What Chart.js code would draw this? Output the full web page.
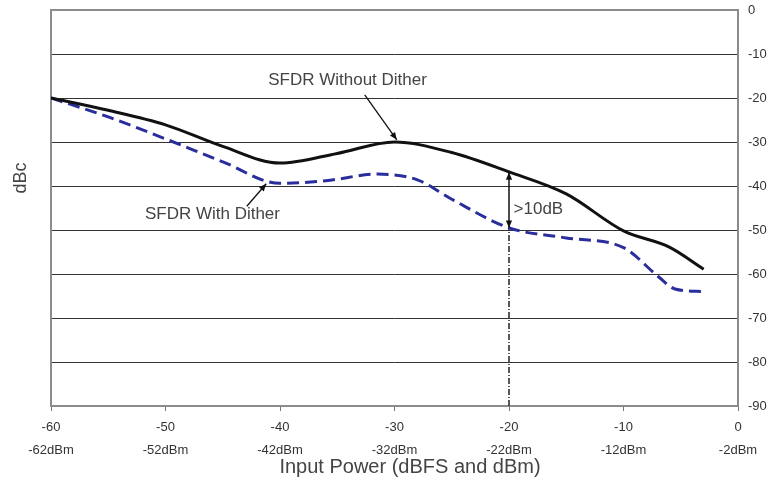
<!DOCTYPE html>
<html>
<head>
<meta charset="utf-8">
<script src="https://cdn.jsdelivr.net/npm/chart.js@4.4.1/dist/chart.umd.min.js"></script>
<style>
  html, body { margin: 0; padding: 0; background: #fff; }
  #wrap { width: 770px; height: 491px; }
</style>
</head>
<body>
<div id="wrap"><canvas id="sfdrChart" width="770" height="491"></canvas></div>
<script>
// Input power (dBFS) and SFDR (dBc)
const inputWithout = [-60, -55, -50, -45, -40, -35, -30, -25, -20, -15, -10, -6, -3];
const sfdrWithout  = [-20, -22.8, -26.1, -31, -34.8, -32.6, -30, -32.4, -36.8, -41.8, -50.2, -53.9, -58.9];

const inputWith = [-60, -55, -50, -45, -40, -36, -31.5, -28, -25, -20, -15, -10, -7, -5.5, -3];
const sfdrWith  = [-20, -24.3, -29.3, -34.5, -39.4, -38.8, -37.3, -38.6, -43, -49.5, -51.8, -54, -60.5, -63.4, -64];

const xTicks = [-60, -50, -40, -30, -20, -10, 0];
const dBmOffset = -2;

// annotations (data coordinates)
const markerX = -20;
const markerLow = -49.5;
const markerHigh = -36.9;

document.addEventListener("DOMContentLoaded", function () {
    const toXY = (xs, ys) => xs.map((x, i) => ({ x: x, y: ys[i] }));
    const textColor = '#444';
    const fontFamily = '"Liberation Sans", Arial, sans-serif';

    function arrowHead(ctx, x1, y1, x2, y2, size) {
        const a = Math.atan2(y2 - y1, x2 - x1);
        ctx.beginPath();
        ctx.moveTo(x2, y2);
        ctx.lineTo(x2 - size * Math.cos(a - 0.4), y2 - size * Math.sin(a - 0.4));
        ctx.lineTo(x2 - size * Math.cos(a + 0.4), y2 - size * Math.sin(a + 0.4));
        ctx.closePath();
        ctx.fill();
    }

    const decorPlugin = {
        id: 'decor',
        beforeDatasetsDraw(chart) {
            const ctx = chart.ctx;
            const a = chart.chartArea;
            const xs = chart.scales.x, ys = chart.scales.y;
            ctx.save();
            // frame
            ctx.strokeStyle = '#8c8c8c';
            ctx.lineWidth = 2;
            ctx.strokeRect(a.left, a.top, a.right - a.left, a.bottom - a.top);
            // dash-dot marker line from the axis up to the dithered curve
            const px = xs.getPixelForValue(markerX);
            ctx.strokeStyle = '#222';
            ctx.lineWidth = 1.5;
            ctx.setLineDash([6, 2, 1, 2]);
            ctx.beginPath();
            ctx.moveTo(px, a.bottom);
            ctx.lineTo(px, ys.getPixelForValue(markerLow));
            ctx.stroke();
            ctx.restore();
        },
        afterDatasetsDraw(chart) {
            const ctx = chart.ctx;
            const xs = chart.scales.x, ys = chart.scales.y;
            const X = v => xs.getPixelForValue(v), Y = v => ys.getPixelForValue(v);
            ctx.save();
            ctx.fillStyle = '#111';
            ctx.strokeStyle = '#111';
            ctx.lineWidth = 1.5;

            // >10dB double arrow
            const px = X(markerX), yl = Y(markerLow), yh = Y(markerHigh);
            ctx.beginPath();
            ctx.moveTo(px, yl);
            ctx.lineTo(px, yh);
            ctx.stroke();
            arrowHead(ctx, px, yl - 10, px, yh, 8);
            arrowHead(ctx, px, yh + 10, px, yl, 8);

            // pointer arrows
            ctx.lineWidth = 1.3;
            ctx.beginPath();
            ctx.moveTo(X(-32.6), Y(-19.3));
            ctx.lineTo(X(-29.8), Y(-29.5));
            ctx.stroke();
            arrowHead(ctx, X(-32.6), Y(-19.3), X(-29.8), Y(-29.5), 8);
            ctx.beginPath();
            ctx.moveTo(X(-42.9), Y(-44.6));
            ctx.lineTo(X(-41.2), Y(-39.5));
            ctx.stroke();
            arrowHead(ctx, X(-42.9), Y(-44.6), X(-41.2), Y(-39.5), 8);

            // text labels
            ctx.fillStyle = textColor;
            ctx.font = '17px ' + fontFamily;
            ctx.textAlign = 'center';
            ctx.textBaseline = 'middle';
            ctx.fillText('SFDR Without Dither', X(-34.1), Y(-16));
            ctx.fillText('SFDR With Dither', X(-45.9), Y(-46.4));
            ctx.textAlign = 'left';
            ctx.fillText('>10dB', X(-19.6), Y(-45.2));

            // axis titles
            ctx.font = '20px ' + fontFamily;
            ctx.textAlign = 'center';
            ctx.fillText('Input Power (dBFS and dBm)', 410, 467);
            ctx.font = '18px ' + fontFamily;
            ctx.save();
            ctx.translate(21, 178);
            ctx.rotate(-Math.PI / 2);
            ctx.fillText('dBc', 0, 0);
            ctx.restore();
            ctx.restore();
        }
    };

    new Chart(document.getElementById('sfdrChart').getContext('2d'), {
        type: 'line',
        data: {
            datasets: [
                {
                    label: 'SFDR Without Dither',
                    data: toXY(inputWithout, sfdrWithout),
                    borderColor: '#111',
                    borderWidth: 3,
                    cubicInterpolationMode: 'monotone',
                    pointRadius: 0,
                    fill: false
                },
                {
                    label: 'SFDR With Dither',
                    data: toXY(inputWith, sfdrWith),
                    borderColor: '#2a2e9c',
                    borderWidth: 3,
                    borderDash: [12, 6],
                    cubicInterpolationMode: 'monotone',
                    pointRadius: 0,
                    fill: false
                }
            ]
        },
        options: {
            responsive: false,
            animation: false,
            layout: { padding: { top: 10, left: 0, right: 0, bottom: 0 } },
            plugins: { legend: { display: false }, tooltip: { enabled: false } },
            scales: {
                x: {
                    type: 'linear',
                    min: -60, max: 0,
                    afterBuildTicks: s => { s.ticks = xTicks.map(v => ({ value: v })); },
                    afterFit: s => { s.height = 85; s.paddingLeft = 0; s.paddingRight = 0; },
                    grid: { drawOnChartArea: false, drawTicks: true, tickLength: 5, color: '#777' },
                    border: { display: false },
                    ticks: {
                        color: '#333',
                        padding: 5,
                        maxRotation: 0,
                        font: { size: 13, family: fontFamily, lineHeight: 1.75 },
                        callback: v => [String(v), (v + dBmOffset) + 'dBm']
                    }
                },
                y: {
                    position: 'right',
                    min: -90, max: 0,
                    afterFit: s => { s.width = 32; s.paddingTop = 0; s.paddingBottom = 0; },
                    grid: { color: '#333', lineWidth: 1, drawTicks: false },
                    border: { display: false },
                    ticks: {
                        stepSize: 10,
                        color: '#333',
                        padding: 10,
                        font: { size: 13, family: fontFamily }
                    }
                },
                yLeft: {
                    position: 'left',
                    min: -90, max: 0,
                    afterFit: s => { s.width = 51; s.paddingTop = 0; s.paddingBottom = 0; },
                    grid: { display: false },
                    border: { display: false },
                    ticks: { display: false }
                }
            }
        },
        plugins: [decorPlugin]
    });
});
</script>
</body>
</html>
